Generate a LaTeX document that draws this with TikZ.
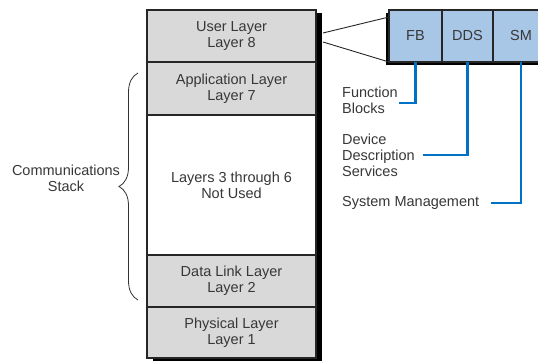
\documentclass[tikz,border=0pt]{standalone}
\usepackage{fontspec}
\setmainfont{Liberation Sans}
\usetikzlibrary{positioning,decorations.pathreplacing,backgrounds}

\definecolor{layergray}{RGB}{217,217,217}
\definecolor{userblue}{RGB}{168,198,230}
\definecolor{linkblue}{RGB}{0,114,198}
\definecolor{textgray}{RGB}{55,55,55}

\begin{document}
\begin{tikzpicture}[
    x=1pt, y=-1pt,
    font=\fontsize{14.5}{16}\selectfont, text=textgray,
    layer/.style={rectangle, draw=black!85, line width=1.2pt, fill=layergray, minimum width=169pt, align=center, inner sep=0pt, outer sep=0pt},
    block/.style={rectangle, draw=black!85, line width=1.2pt, fill=userblue, minimum width=52pt, minimum height=52pt, inner sep=0pt, outer sep=0pt},
    desc/.style={align=left, anchor=west, inner sep=0pt},
    link/.style={draw=linkblue, line width=2.6pt},
    tie/.style={draw=black!85, line width=0.9pt}
]
    \useasboundingbox (0,0) rectangle (538,361);

    % Stack
    \node[layer, minimum height=52pt] (user) at (231.5,36) {User Layer\\Layer 8};
    \node[layer, minimum height=53pt] (app) at (231.5,88.5) {Application Layer\\Layer 7};
    \node[layer, minimum height=140pt, fill=white] (unused) at (231.5,185) {Layers 3 through 6\\Not Used};
    \node[layer, minimum height=52pt] (dlink) at (231.5,281) {Data Link Layer\\Layer 2};
    \node[layer, minimum height=51pt] (phys) at (231.5,332.5) {Physical Layer\\Layer 1};

    % User layer blocks
    \node[block, minimum width=53pt] (fb) at (415.5,36) {FB};
    \node[block, minimum width=51pt, right=0pt of fb] (dds) {DDS};
    \node[block, minimum width=56pt, right=0pt of dds] (sm) {SM};

    % Shadows
    \begin{scope}[on background layer]
        \fill[black] ([xshift=6pt,yshift=-3pt]user.north west) rectangle ([xshift=6pt,yshift=-4pt]phys.south east);
        \fill[black] ([xshift=-3pt,yshift=-3pt]fb.north west) rectangle ([yshift=-3pt]sm.south east);
    \end{scope}

    % User layer to blocks
    \coordinate (tieA) at (323,33);
    \coordinate (tieB) at (323,42);
    \draw[tie] (tieA) -- ([yshift=-7pt]fb.north west);
    \draw[tie] (tieB) -- (fb.south west);

    % Descriptions
    \node[desc] (fbtxt) at (342,100) {Function\\Blocks};
    \node[desc] (ddstxt) at (342,155) {Device\\Description\\Services};
    \node[desc] (smtxt) at (342,203) {System Management};

    \coordinate (fbend) at (399,103);
    \coordinate (ddsend) at (423,155);
    \coordinate (smend) at (491,203);
    \draw[link] (fb.south) |- (fbend);
    \draw[link] (dds.south) |- (ddsend);
    \draw[link] (sm.south) |- (smend);

    % Brace
    \coordinate (braceTop) at (138,73);
    \coordinate (braceBot) at (138,300);
    \draw[decorate, decoration={brace, amplitude=19pt}, line width=0.8pt, black!80] (braceBot) -- (braceTop);
    \node[align=center, inner sep=0pt] (commstack) at (66,178) {Communications\\Stack};
\end{tikzpicture}
\end{document}
